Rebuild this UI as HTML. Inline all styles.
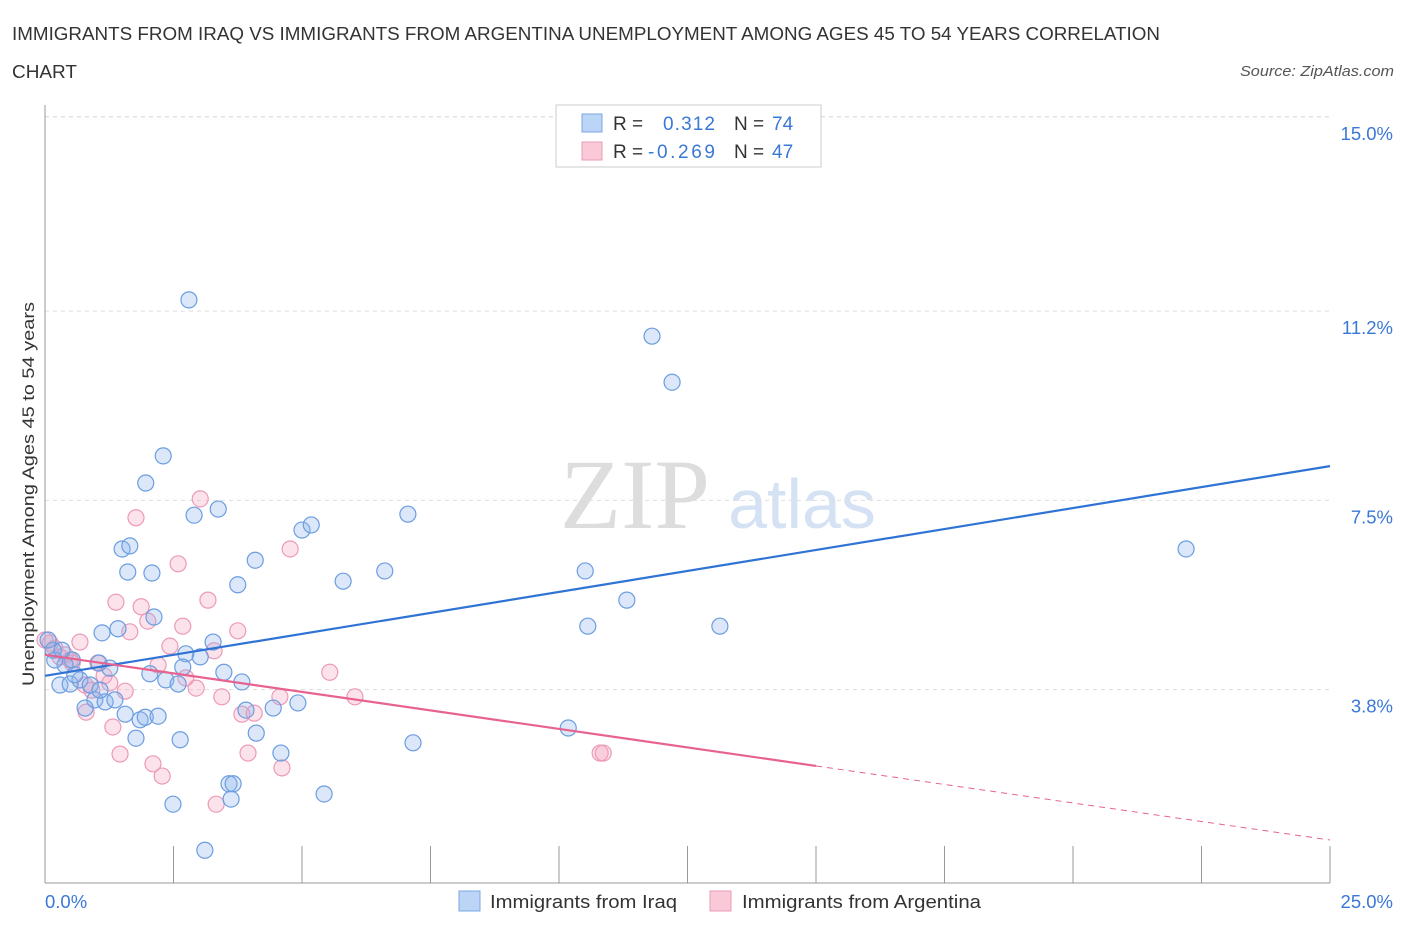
<!DOCTYPE html>
<html><head><meta charset="utf-8">
<style>
body{margin:0;background:#fff;font-family:"Liberation Sans",sans-serif;}
svg{display:block}
</style></head>
<body>
<svg id="chart" width="1406" height="930">
<text x="12" y="40" font-size="18" fill="#333" textLength="1148" lengthAdjust="spacingAndGlyphs">IMMIGRANTS FROM IRAQ VS IMMIGRANTS FROM ARGENTINA UNEMPLOYMENT AMONG AGES 45 TO 54 YEARS CORRELATION</text>
<text x="12" y="78" font-size="18" fill="#333" textLength="65" lengthAdjust="spacingAndGlyphs">CHART</text>
<text x="1394" y="76" font-size="15" fill="#555" font-style="italic" text-anchor="end" textLength="154" lengthAdjust="spacingAndGlyphs">Source: ZipAtlas.com</text>
<text x="635" y="528" font-size="100" fill="#ddd" font-family="Liberation Serif,serif" text-anchor="middle">ZIP</text>
<text x="802" y="528" font-size="70" fill="#d4e2f4" text-anchor="middle">atlas</text>
<g id="grid"></g>
<g id="marks"></g>
<text transform="translate(34,494) rotate(-90)" font-size="17" fill="#333" text-anchor="middle" textLength="384" lengthAdjust="spacingAndGlyphs">Unemployment Among Ages 45 to 54 years</text>
<g>
<rect x="556" y="105" width="265" height="62" fill="#fff" stroke="#ccc"/>
<rect x="582" y="114" width="20" height="18" fill="#bcd4f6" stroke="#7aa7e6"/>
<rect x="582" y="142" width="20" height="18" fill="#f9c9d8" stroke="#eb9ab6"/>
<text x="613" y="130" font-size="19" fill="#333">R =</text>
<text x="663" y="130" font-size="19" fill="#3a78d6" textLength="52">0.312</text>
<text x="734" y="130" font-size="19" fill="#333">N =</text>
<text x="772" y="130" font-size="19" fill="#3a78d6">74</text>
<text x="613" y="158" font-size="19" fill="#333">R =</text>
<text x="648" y="158" font-size="19" fill="#3a78d6" textLength="67">-0.269</text>
<text x="734" y="158" font-size="19" fill="#333">N =</text>
<text x="772" y="158" font-size="19" fill="#3a78d6">47</text>
</g>
<g>
<rect x="459" y="891" width="21" height="20" fill="#bcd4f6" stroke="#7aa7e6"/>
<text x="490" y="908" font-size="18" fill="#333" textLength="187" lengthAdjust="spacingAndGlyphs">Immigrants from Iraq</text>
<rect x="710" y="891" width="21" height="20" fill="#f9c9d8" stroke="#eb9ab6"/>
<text x="742" y="908" font-size="18" fill="#333" textLength="239" lengthAdjust="spacingAndGlyphs">Immigrants from Argentina</text>
</g>
</svg>
<script>
const yTicks=[3.8,7.5,11.2,15.0];
const yTickLabels=["3.8%","7.5%","11.2%","15.0%"];
const xTickLabels=["0.0%","25.0%"];
const iraqX=[2.80,11.81,12.20,2.30,1.96,2.90,3.37,7.06,22.20,1.50,1.65,5.00,5.18,4.09,1.61,2.08,6.61,10.51,5.80,3.75,11.32,2.12,10.56,13.13,1.11,1.42,3.27,2.74,3.02,1.05,1.26,0.53,0.39,0.16,2.68,3.48,2.04,2.35,2.59,3.83,0.29,0.49,0.68,0.88,0.97,1.17,1.36,0.78,1.56,1.85,1.95,2.20,4.44,3.91,4.92,1.77,2.63,4.11,10.18,7.16,4.59,3.58,3.66,3.62,5.43,2.49,3.11,0.06,0.19,0.33,0.58,1.07];
const iraqY=[11.42,10.71,9.81,8.37,7.84,7.21,7.33,7.23,6.55,6.55,6.61,6.92,7.02,6.33,6.10,6.08,6.12,6.12,5.92,5.85,5.55,5.22,5.04,5.04,4.91,4.99,4.73,4.50,4.44,4.32,4.22,4.38,4.28,4.57,4.24,4.14,4.11,3.99,3.91,3.95,3.89,3.91,3.99,3.89,3.60,3.56,3.60,3.44,3.32,3.21,3.26,3.28,3.44,3.40,3.54,2.85,2.82,2.95,3.05,2.76,2.56,1.96,1.96,1.66,1.76,1.56,0.66,4.77,4.38,4.57,4.09,3.79];
const argX=[3.02,1.77,4.77,2.59,1.38,3.17,1.87,2.00,2.68,3.75,1.65,0.68,2.43,3.29,0.19,0.29,0.53,1.03,2.20,2.74,5.54,1.15,0.78,0.91,1.26,1.56,2.94,3.44,4.57,6.03,0.80,1.32,3.83,4.07,1.46,3.95,2.10,2.28,4.61,3.33,10.80,10.86,0.10,0.39,0.0,0.49];
const argY=[7.53,7.16,6.55,6.26,5.51,5.55,5.42,5.14,5.04,4.95,4.93,4.73,4.65,4.56,4.61,4.44,4.32,4.32,4.28,4.03,4.14,4.07,3.89,3.79,3.93,3.77,3.83,3.66,3.66,3.66,3.36,3.07,3.32,3.34,2.54,2.56,2.35,2.11,2.27,1.56,2.56,2.56,4.71,4.48,4.77,4.38];
const iraqTrend=[4.07,8.17];
const argTrend=[4.48,0.86];
const argSolidEnd=15.0;
const X=v=>45+v*51.4, Y=v=>884-v*51.15;
const NS="http://www.w3.org/2000/svg";
function mk(t,a,p){const e=document.createElementNS(NS,t);for(const k in a)e.setAttribute(k,a[k]);p.appendChild(e);return e;}
const grid=document.getElementById('grid'), marks=document.getElementById('marks');
const topLine=mk('line',{x1:45,x2:1330,y1:Y(15),y2:Y(15),stroke:'#ddd','stroke-dasharray':'4,4'},grid);


yTicks.forEach((t,i)=>{
 const l=mk('line',{x1:45,x2:1330,y1:Y(t),y2:Y(t),stroke:'#ddd','stroke-dasharray':'4,4'},grid);
 
 
 const tx=mk('text',{x:1393,y:Y(t)+23,'font-size':18.5,fill:'#3a78d6','text-anchor':'end'},grid);
 tx.textContent=yTickLabels[i];
 
 
});
const ax=mk('line',{x1:45,x2:45,y1:105,y2:883,stroke:'#999'},grid);


const bx=mk('line',{x1:45,x2:1330,y1:883,y2:883,stroke:'#999'},grid);


for(let i=0;i<=10;i++){
 const t=mk('line',{x1:X(i*2.5),x2:X(i*2.5),y1:846,y2:883,stroke:'#999'},grid);
 
 
}
[[0,'start',45],[1,'end',1393]].forEach(([i,a,x])=>{
 const tx=mk('text',{x:x,y:908,'font-size':18.5,fill:'#3a78d6','text-anchor':a},grid);
 tx.textContent=xTickLabels[i];
 
 
});
argX.forEach((x,i)=>{
 const c=mk('circle',{cx:X(x),cy:Y(argY[i]),r:8,fill:'rgba(244,160,190,0.3)',stroke:'#ec9ab8','stroke-width':1.2},marks);
 
 
});
iraqX.forEach((x,i)=>{
 const c=mk('circle',{cx:X(x),cy:Y(iraqY[i]),r:8,fill:'rgba(140,180,235,0.3)',stroke:'#6b9de0','stroke-width':1.2},marks);
 
 
});
const l1=mk('line',{x1:X(0),y1:Y(iraqTrend[0]),x2:X(25),y2:Y(iraqTrend[1]),stroke:'#2f74d4','stroke-width':2.2},marks);


const am=argTrend[0]+(argTrend[1]-argTrend[0])*argSolidEnd/25;
const l2=mk('line',{x1:X(0),y1:Y(argTrend[0]),x2:X(argSolidEnd),y2:Y(am),stroke:'#e8628f','stroke-width':2.2},marks);


const l3=mk('line',{x1:X(argSolidEnd),y1:Y(am),x2:X(25),y2:Y(argTrend[1]),stroke:'#e8628f','stroke-width':1,'stroke-dasharray':'6,5'},marks);


</script>
</body></html>
